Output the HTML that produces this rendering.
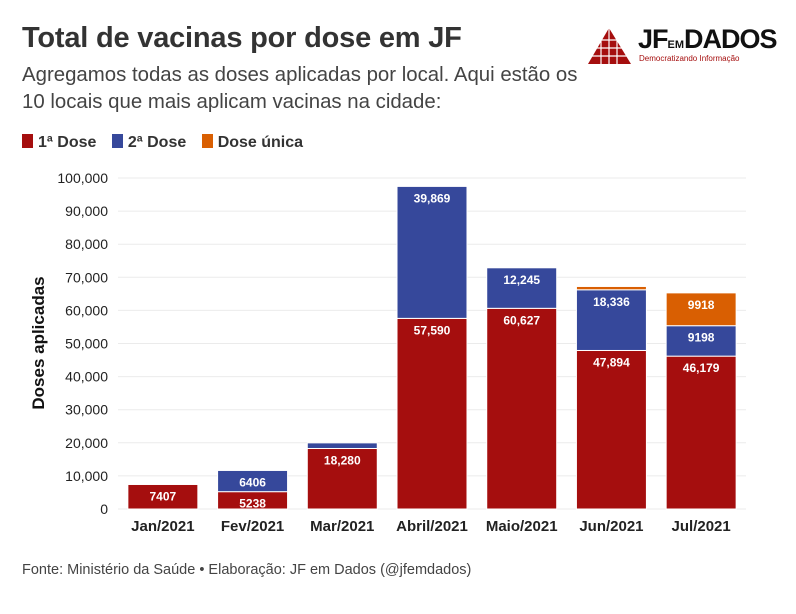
<!DOCTYPE html>
<html><head><meta charset="utf-8"><style>
body{margin:0;background:#fff;font-family:"Liberation Sans",sans-serif;}
#wrap{position:relative;width:796px;height:614px;overflow:hidden;}
.t{position:absolute;white-space:nowrap;}
</style></head><body>
<div id="wrap">
<div class="t" style="left:22px;top:22px;font-size:29px;font-weight:bold;color:#333;letter-spacing:-0.2px">Total de vacinas por dose em JF</div>
<div class="t" style="left:22px;top:62px;font-size:20.4px;color:#444;line-height:27px">Agregamos todas as doses aplicadas por local. Aqui estão os<br>10 locais que mais aplicam vacinas na cidade:</div>
<div style="position:absolute;left:585px;top:24px;width:200px;height:44px">
<svg width="50" height="44"><polygon points="24,4 3,40 46,40" fill="#a50e0e"/><g stroke="#fff" stroke-width="1.2"><line x1="0" y1="16" x2="50" y2="16"/><line x1="0" y1="24" x2="50" y2="24"/><line x1="0" y1="32" x2="50" y2="32"/><line x1="16" y1="0" x2="16" y2="44"/><line x1="24" y1="0" x2="24" y2="44"/><line x1="32" y1="0" x2="32" y2="44"/></g></svg>
<div class="t" style="left:53px;top:0px;font-size:27px;font-weight:bold;color:#111;letter-spacing:-1px">JF<span style="font-size:11px;letter-spacing:0">EM</span>DADOS</div>
<div class="t" style="left:54px;top:30px;font-size:8px;color:#a50e0e">Democratizando Informação</div>
</div>
<div style="position:absolute;left:22px;top:134px;font-size:16px;font-weight:bold;color:#333">
<span><span style="display:inline-block;width:11px;height:14px;background:#a50e0e;vertical-align:-1px;margin-right:5px"></span>1ª Dose</span>
<span style="margin-left:11px"><span style="display:inline-block;width:11px;height:14px;background:#36489b;vertical-align:-1px;margin-right:5px"></span>2ª Dose</span>
<span style="margin-left:11px"><span style="display:inline-block;width:11px;height:14px;background:#d95f02;vertical-align:-1px;margin-right:5px"></span>Dose única</span>
</div>
<svg id="chart" width="796" height="614" style="position:absolute;left:0;top:0"></svg>
<div class="t" style="left:22px;top:562px;font-size:14.5px;color:#444">Fonte: Ministério da Saúde • Elaboração: JF em Dados (@jfemdados)</div>
</div>
<script>
const categories=["Jan/2021","Fev/2021","Mar/2021","Abril/2021","Maio/2021","Jun/2021","Jul/2021"];
const dose1=[7407,5238,18280,57590,60627,47894,46179];
const dose2=[0,6406,1700,39869,12245,18336,9198];
const doseUnica=[0,0,0,0,0,1000,9918];
const labels1=["7407","5238","18,280","57,590","60,627","47,894","46,179"];
const labels2=["","6406","","39,869","12,245","18,336","9198"];
const labelsU=["","","","","","","9918"];
const yTicks=[0,10000,20000,30000,40000,50000,60000,70000,80000,90000,100000];
const NS="http://www.w3.org/2000/svg";
const svg=document.getElementById('chart');
const X0=118,X1=746,Y0=509,Y1=178,YMAX=100000;
const y=v=>Y0-(v/YMAX)*(Y0-Y1);
const band=(X1-X0)/categories.length;
const bw=band*0.78;
const xc=i=>X0+band*(i+0.5);
function mk(tag,attrs){const e=document.createElementNS(NS,tag);for(const k in attrs)e.setAttribute(k,attrs[k]);svg.appendChild(e);return e;}
yTicks.forEach(t=>{
 const g=mk('line',{x1:X0,x2:X1,y1:y(t),y2:y(t),stroke:'#ebebeb','stroke-width':1});
 
 
 const tx=mk('text',{x:X0-10,y:y(t)+5,'text-anchor':'end','font-size':14,fill:'#222','font-family':'Liberation Sans'});
 tx.textContent=t.toLocaleString('en-US');
 
 
});
const yt=mk('text',{x:0,y:0,transform:'translate(44,343) rotate(-90)','text-anchor':'middle','font-size':17,'font-weight':'bold',fill:'#111','font-family':'Liberation Sans'});
yt.textContent='Doses aplicadas';


const series=[[dose1,'#a50e0e',labels1,'dose1'],[dose2,'#36489b',labels2,'dose2'],[doseUnica,'#d95f02',labelsU,'dose-unica']];
categories.forEach((c,i)=>{
 let base=0;
 series.forEach(([vals,col,lab,nm])=>{
  const v=vals[i]; if(!v) return;
  const r=mk('rect',{x:xc(i)-bw/2,y:y(base+v),width:bw,height:y(base)-y(base+v),fill:col,stroke:'#fff','stroke-width':1});
  
  
  if(lab[i]){
   const t=mk('text',{x:xc(i),y:y(base+v)+16,'text-anchor':'middle','font-size':12,'font-weight':'bold',fill:'#fff','font-family':'Liberation Sans'});
   t.textContent=lab[i];
   
   
  }
  base+=v;
 });
 const xl=mk('text',{x:xc(i),y:Y0+22,'text-anchor':'middle','font-size':15,'font-weight':'bold',fill:'#222','font-family':'Liberation Sans'});
 xl.textContent=c;
 
 
});
</script>
</body></html>
